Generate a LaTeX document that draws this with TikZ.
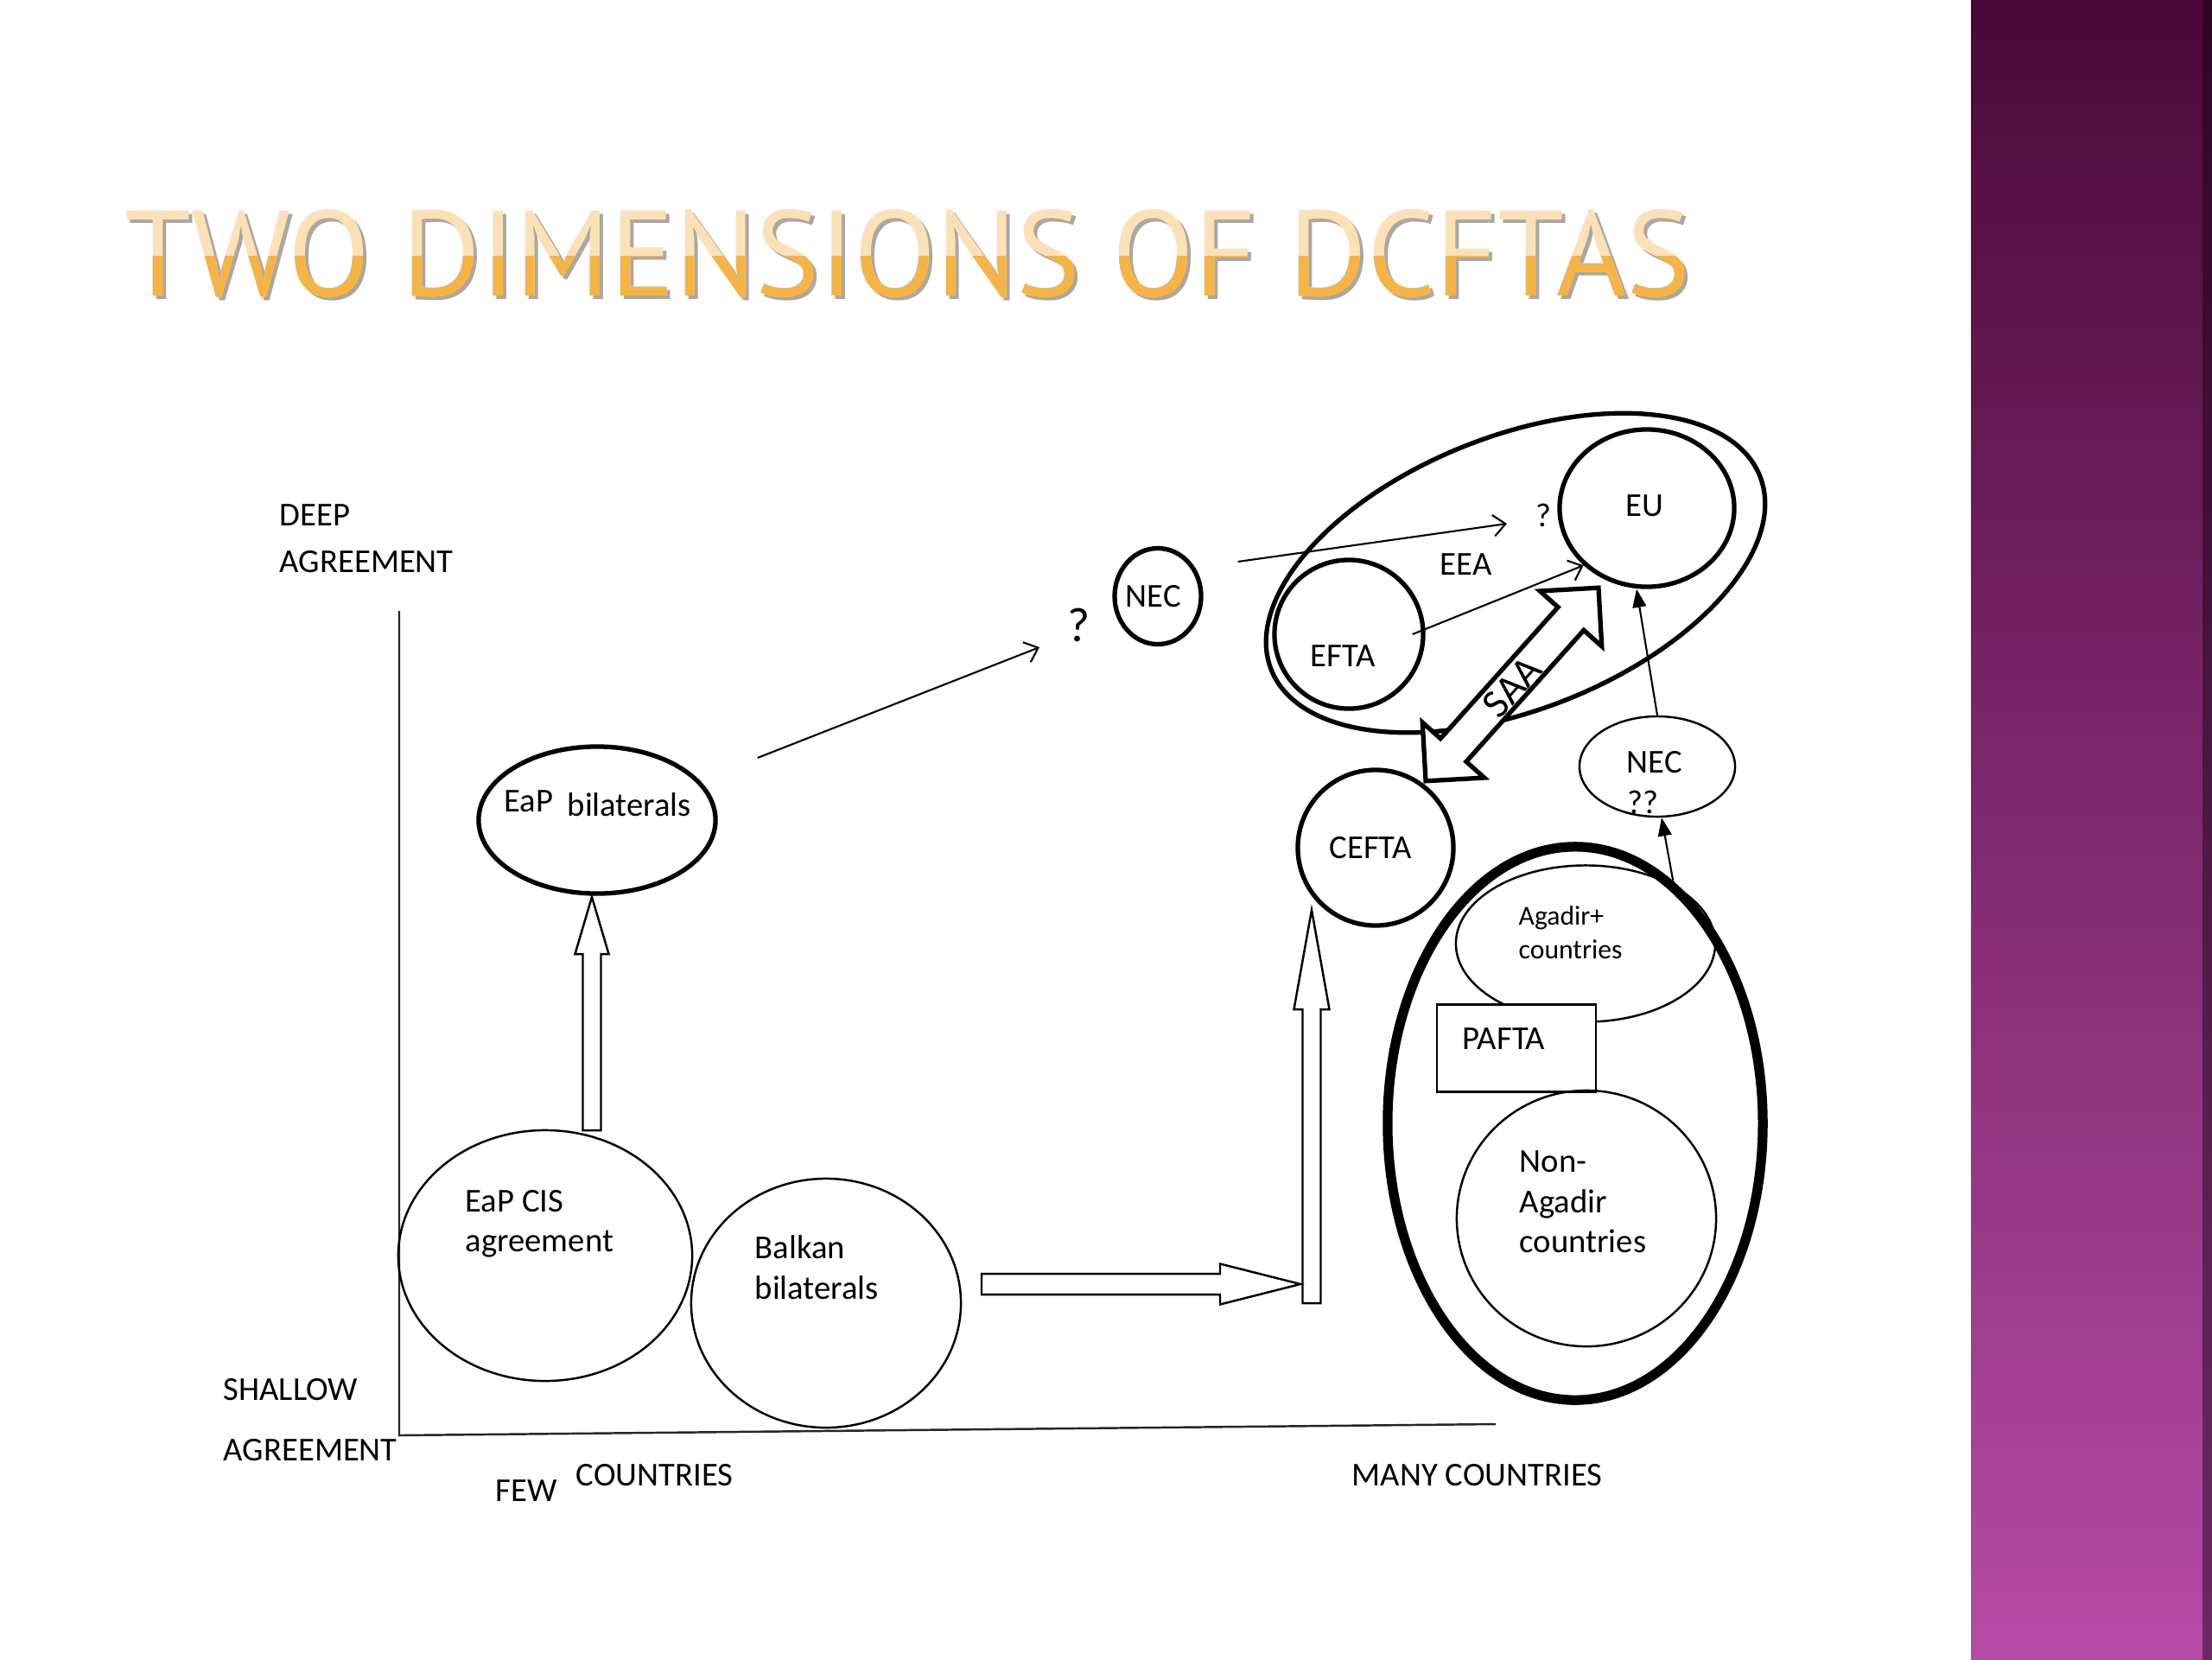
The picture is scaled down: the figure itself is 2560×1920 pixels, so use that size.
\documentclass[tikz,border=0pt]{standalone}
\usepackage{graphicx}
\usepackage{fontspec}
\setmainfont{Carlito}
\newfontfamily\headfont{PT Sans}
\usetikzlibrary{shapes.geometric,arrows.meta}
\definecolor{sidetop}{HTML}{4A0839}
\definecolor{sidebot}{HTML}{B54BA5}
\definecolor{edgetop}{HTML}{2E0624}
\definecolor{edgebot}{HTML}{6A2A62}
\definecolor{headlight}{HTML}{FDE1B6}
\definecolor{headgold}{HTML}{F6B445}
\definecolor{headshade}{HTML}{A8A8A8}
\newcommand{\headline}{\resizebox{18.1cm}{1.0cm}{\headfont TWO DIMENSIONS OF DCFTAS}}

\begin{document}
\begin{tikzpicture}[x=0.01cm, y=-0.01cm,
  oval/.style={ellipse, draw, inner sep=0pt, line width=0.7pt},
  boldline/.style={line width=1.5pt},
  lbl/.style={anchor=base west, inner sep=0pt, font=\fontsize{11pt}{13pt}\selectfont},
  smalltext/.style={font=\fontsize{9pt}{11pt}\selectfont},
  blockarrow/.style={draw, fill=white, line width=0.7pt, line join=miter},
  barb/.style={line width=0.6pt, -{Straight Barb[length=4pt,width=7pt]}},
  tri/.style={line width=0.6pt, -{Triangle[length=6pt,width=4.5pt]}}]
\useasboundingbox (0,0) rectangle (2560,1920);
\fill[white] (0,0) rectangle (2560,1920);
\shade[top color=sidetop, bottom color=sidebot] (2281,0) rectangle (2560,1920);
\shade[top color=edgetop, bottom color=edgebot] (2549,0) rectangle (2560,1920);

\node[inner sep=0pt, anchor=north west, text=headshade] (T0) at (148,246) {\headline};
\node[inner sep=0pt, anchor=north west, text=headlight] (T) at (144,242) {\headline};
\begin{scope}
\clip (0,296) rectangle (2281,400);
\node[inner sep=0pt, anchor=north west, text=headgold] (T1) at (144,242) {\headline};
\end{scope}

\coordinate (Ytop) at (462,707);
\coordinate (O) at (462,1661);
\coordinate (Xend) at (1731,1648);
\draw[line width=0.7pt, black!85] (Ytop) -- (O) -- (Xend);

\node[lbl] at (323,608) {DEEP};
\node[lbl] at (323,662) {AGREEMENT};
\node[lbl] at (258,1620) {SHALLOW};
\node[lbl] at (258,1690) {AGREEMENT};
\node[lbl] at (573,1737) {FEW};
\node[lbl] at (666,1719) {COUNTRIES};
\node[lbl] at (1564,1719) {MANY COUNTRIES};

\node[oval, boldline, minimum width=2.74cm, minimum height=1.70cm] (EaPb) at (691,949) {};
\node[oval, minimum width=3.40cm, minimum height=2.90cm] (EaPcis) at (631,1453) {};
\node[oval, minimum width=3.12cm, minimum height=2.88cm] (Balkan) at (956,1508) {};
\node[oval, boldline, minimum width=1.00cm, minimum height=1.11cm] (NEC) at (1340,690) {};
\node[oval, boldline, minimum width=6.08cm, minimum height=3.16cm, rotate=21.6] (EEA) at (1754,663) {};
\node[oval, boldline, minimum width=1.72cm, minimum height=1.72cm] (EFTA) at (1561,734) {};
\node[oval, boldline, minimum width=2.02cm, minimum height=1.82cm] (EU) at (1906,588) {};
\node[oval, boldline, minimum width=1.80cm, minimum height=1.80cm] (CEFTA) at (1592,981) {};
\node[oval, minimum width=1.80cm, minimum height=1.16cm] (NECq) at (1918,887) {};
\node[oval, line width=3.2pt, minimum width=4.34cm, minimum height=6.40cm] (AgBig) at (1823,1300) {};
\node[oval, minimum width=3.00cm, minimum height=1.81cm] (Agadir) at (1835,1092) {};
\node[draw, fill=white, line width=0.7pt, inner sep=0pt, minimum width=1.84cm, minimum height=1.01cm] (PAFTA) at (1755,1213) {};
\node[oval, minimum width=3.00cm, minimum height=2.96cm] (NonAg) at (1836,1410) {};

\begin{scope}[shift={(1750,792)}, rotate=48.2]
\draw[blockarrow, boldline] (150,0) -- (102,48) -- (102,20) -- (-102,20) -- (-102,48) -- (-150,0)
  -- (-102,-48) -- (-102,-20) -- (102,-20) -- (102,-48) -- cycle;
\end{scope}
\node[font=\fontsize{13.5pt}{15pt}\selectfont, rotate=48.2, inner sep=0pt] (SAA) at (1750,795) {SAA};

\draw[blockarrow] (674.5,1308) -- (674.5,1104) -- (665.5,1104) -- (685,1038) -- (704.5,1104) -- (695.5,1104) -- (695.5,1308) -- cycle;
\draw[blockarrow] (1507.5,1508) -- (1507.5,1168) -- (1497.5,1168) -- (1518,1053) -- (1538.5,1168) -- (1528.5,1168) -- (1528.5,1508) -- cycle;
\draw[blockarrow] (1136,1474) -- (1412,1474) -- (1412,1462.5) -- (1505,1486) -- (1412,1509.5) -- (1412,1498) -- (1136,1498) -- cycle;

\node[lbl] at (583,939) {EaP};
\node[lbl] at (656,944) {bilaterals};
\node[lbl] at (538,1402) {EaP CIS};
\node[lbl] at (538,1448) {agreement};
\node[lbl] at (873,1456) {Balkan};
\node[lbl] at (873,1503) {bilaterals};
\node[font=\fontsize{16pt}{18pt}\selectfont] (q1) at (1249,723) {?};
\node[lbl] at (1302,702) {NEC};
\node[font=\fontsize{11pt}{13pt}\selectfont] (q2) at (1786,596) {?};
\node[lbl] at (1881,597) {EU};
\node[lbl] at (1666,665) {EEA};
\node[lbl] at (1516,771) {EFTA};
\node[lbl] at (1538,993) {CEFTA};
\node[lbl] at (1882,894) {NEC};
\node[lbl] at (1883,941) {??};
\node[lbl, smalltext] at (1757,1070) {Agadir+};
\node[lbl, smalltext] at (1757,1109) {countries};
\node[lbl] at (1692,1214) {PAFTA};
\node[lbl] at (1758,1356) {Non-};
\node[lbl] at (1758,1403) {Agadir};
\node[lbl] at (1758,1449) {countries};

\draw[barb] ([shift={(46,-72)}]EaPb.east) -- ([shift={(-46,26)}]q1.center);
\draw[barb] ([shift={(40,-40)}]NEC.east) -- ([shift={(-42,10)}]q2.center);
\draw[barb] ([shift={(-15,0)}]EFTA.east) -- (EU.south west);
\draw[tri] (NECq.north) -- ([shift={(-12,0)}]EU.south);
\draw[tri] (AgBig.68) -- ([shift={(5,0)}]NECq.south);
\end{tikzpicture}
\end{document}
